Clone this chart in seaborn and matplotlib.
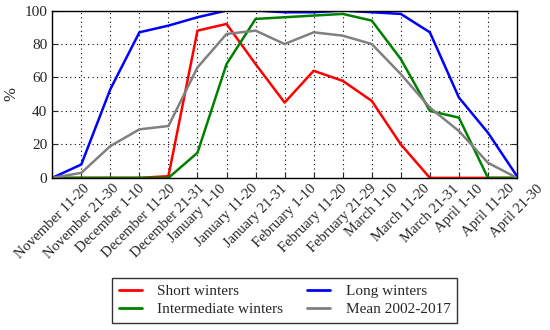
import pandas as pd
import seaborn as sns
import matplotlib.pyplot as plt

# --- DATA ---
PERIODS = ["November 11-20", "November 21-30", "December 1-10", "December 11-20",
           "December 21-31", "January 1-10", "January 11-20", "January 21-31",
           "February 1-10", "February 11-20", "February 21-29", "March 1-10",
           "March 11-20", "March 21-31", "April 1-10", "April 11-20", "April 21-30"]
SHORT = [0, 0, 0, 0, 1, 88, 92, 68, 45, 64, 58, 46, 20, 0, 0, 0, 0]
LONG = [0, 8, 53, 87, 91, 96, 100, 100, 99, 99, 100, 99, 98, 87, 48, 27, 1]
INTERMEDIATE = [0, 0, 0, 0, 0, 15, 68, 95, 96, 97, 98, 94, 71, 40, 36, 0, 0]
MEAN = [0, 3, 19, 29, 31, 66, 86, 88, 80, 87, 85, 80, 62, 42, 28, 9, 0]

SERIES = {"Short winters": SHORT, "Long winters": LONG,
          "Intermediate winters": INTERMEDIATE, "Mean 2002-2017": MEAN}
PALETTE = {"Short winters": "#ff0000", "Intermediate winters": "#008000",
           "Long winters": "#0000ff", "Mean 2002-2017": "#808080"}
LEGEND_ORDER = ["Short winters", "Intermediate winters", "Long winters", "Mean 2002-2017"]

rows = []
for name, vals in SERIES.items():
    for i, v in enumerate(vals):
        rows.append({"pos": i, "value": v, "series": name})
df = pd.DataFrame(rows)

sns.set_style("whitegrid", {"grid.color": "black", "grid.linestyle": ":",
                            "axes.edgecolor": "black", "xtick.direction": "in",
                            "ytick.direction": "in", "xtick.bottom": True,
                            "ytick.left": True})
plt.rcParams['font.family'] = ['Liberation Serif', 'DejaVu Serif']

fig, ax = plt.subplots(figsize=(5.5, 3.3), dpi=100)
fig.subplots_adjust(left=0.095, right=0.94, top=0.968, bottom=0.461)

sns.lineplot(data=df, x="pos", y="value", hue="series", hue_order=list(SERIES.keys()),
             palette=PALETTE, linewidth=1.8, ax=ax, legend=True)

ax.set_xlim(0, len(PERIODS) - 1)
ax.set_ylim(0, 100)
ax.set_xticks(range(len(PERIODS)))
ax.set_xticklabels(PERIODS, rotation=45, fontsize=10.5)
ax.set_yticks([0, 20, 40, 60, 80, 100])
ax.tick_params(axis="y", labelsize=11, length=4, width=0.8, top=True, right=True)
ax.tick_params(axis="x", length=4, width=0.8, pad=3)
ax.grid(True, linestyle=(0, (1, 3)), linewidth=0.8, color="black")
ax.set_xlabel("")
ax.set_ylabel("%", fontsize=12)
for s in ax.spines.values():
    s.set_linewidth(1.0)
    s.set_color("black")

handles, labels = ax.get_legend_handles_labels()
lookup = dict(zip(labels, handles))
leg = ax.legend([lookup[k] for k in LEGEND_ORDER], LEGEND_ORDER, ncol=2,
                loc="upper center", bbox_to_anchor=(0.5, -0.598), borderaxespad=0,
                frameon=True, fancybox=False, edgecolor="black", fontsize=11,
                handlelength=1.5, handletextpad=1.0, columnspacing=1.6,
                labelspacing=0.25, borderpad=0.45)
leg.get_frame().set_linewidth(1.0)
for line in leg.get_lines():
    line.set_linewidth(2.0)

plt.savefig("out.png", dpi=100)
